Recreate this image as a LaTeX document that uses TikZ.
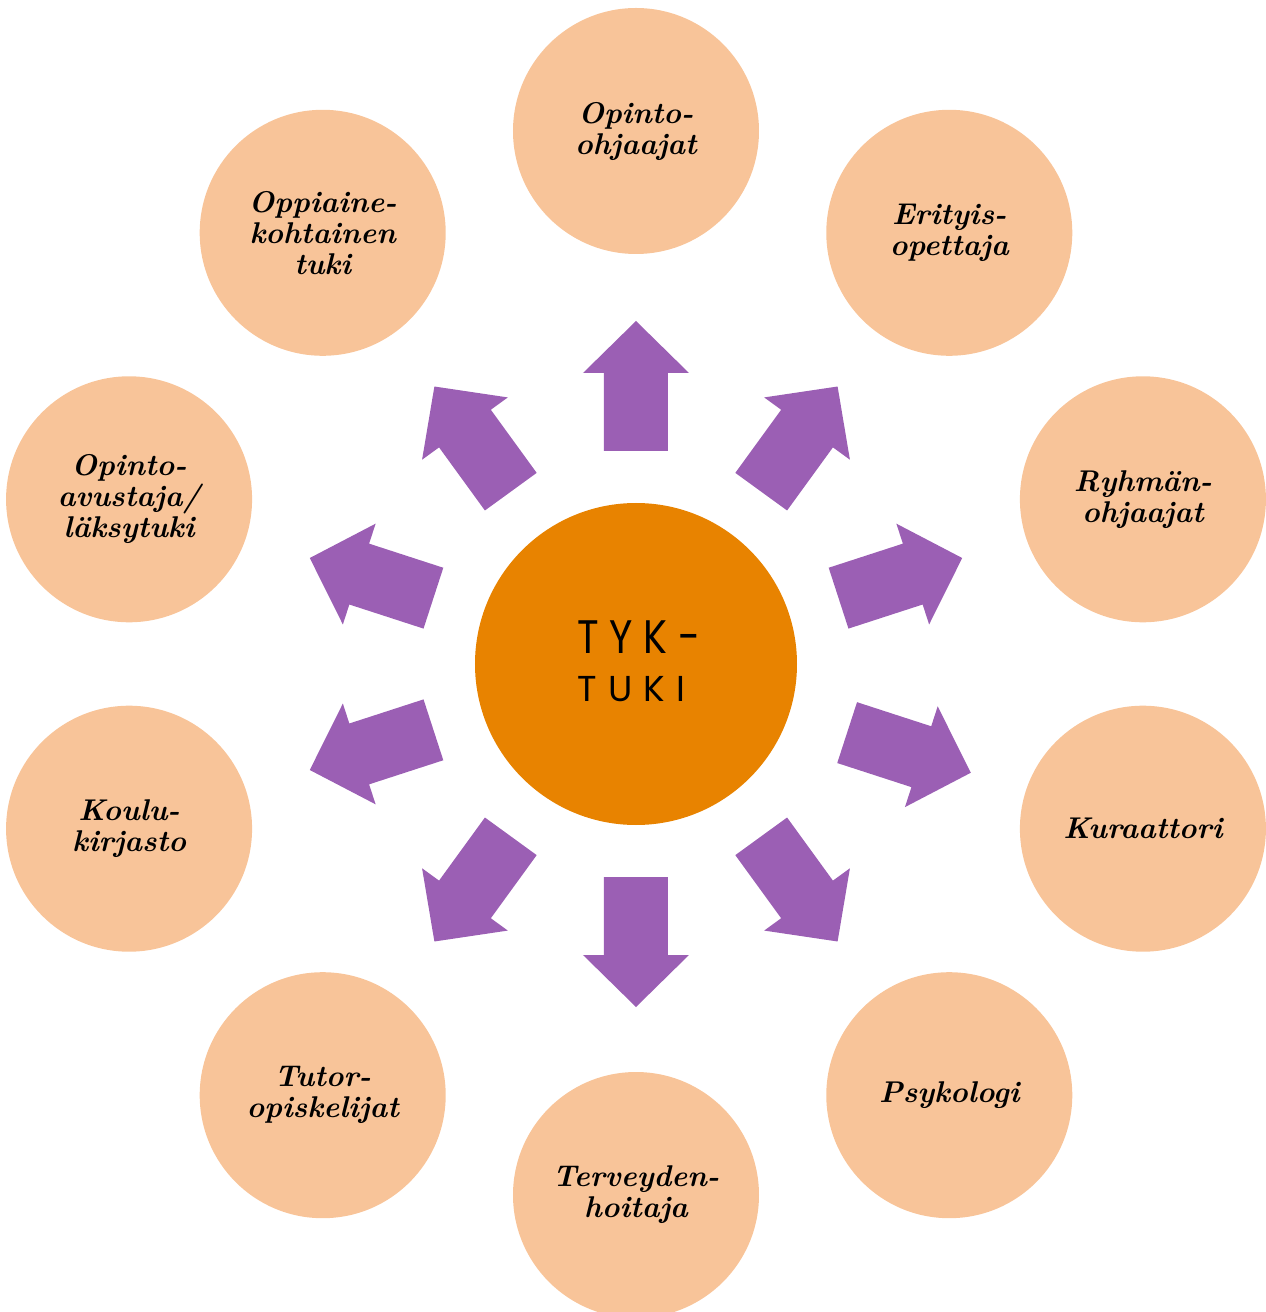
\documentclass[tikz,border=0pt]{standalone}
\usepackage{fontspec}
\newfontfamily\ctrfont{Poppins}
\definecolor{peach}{RGB}{248,196,153}
\definecolor{tykorange}{RGB}{232,131,0}
\definecolor{arrowpurple}{RGB}{155,95,180}
\begin{document}
\begin{tikzpicture}[x=1pt,y=1pt,
  outer/.style={circle, fill=peach, minimum size=246pt, inner sep=0pt, align=center,
    font=\fontsize{30}{31}\selectfont\bfseries\itshape},
  hub/.style={circle, fill=tykorange, minimum size=322pt, inner sep=0pt},
  bigtext/.style={font=\ctrfont\fontsize{47}{50}\selectfont, inner sep=0pt, anchor=base, xscale=0.85},
  smalltext/.style={font=\ctrfont\fontsize{36}{40}\selectfont, inner sep=0pt, anchor=base},
  blockarrow/.style={fill=arrowpurple}]
\useasboundingbox (-636,-648) rectangle (630,664);
% hub
\node[hub] (c) at (0,0) {};
\node[bigtext] (t1) at (3,11) {T\hspace{12.5pt}Y\hspace{12.5pt}K\hspace{12.5pt}-};
\node[smalltext] (t2) at (-4.5,-37) {T\hspace{11pt}U\hspace{11pt}K\hspace{11pt}I};
% outer circles
\node[outer] (n1)  at (90:533)   {Opinto-\\ohjaajat};
\node[outer] (n2)  at (54:533)   {Erityis-\\opettaja};
\node[outer] (n3)  at (18:533)   {Ryhmän-\\ohjaajat};
\node[outer] (n4)  at (-18:533)  {Kuraattori};
\node[outer] (n5)  at (-54:533)  {Psykologi};
\node[outer] (n6)  at (-90:531)  {Terveyden-\\hoitaja};
\node[outer] (n7)  at (-126:533) {Tutor-\\opiskelijat};
\node[outer] (n8)  at (-162:533) {Koulu-\\kirjasto};
\node[outer] (n9)  at (162:533)  {Opinto-\\avustaja/\\läksytuki};
\node[outer] (n10) at (126:533)  {Oppiaine-\\kohtainen\\tuki};
% block arrows
\foreach \a/\s in {90/0,54/0,18/0,-18/9,-54/0,-90/0,-126/0,-162/0,162/0,126/0}{
  \begin{scope}[rotate=\a]
    \fill[blockarrow] (213+\s,-32) -- (291+\s,-32) -- (291+\s,-53) -- (343+\s,0)
      -- (291+\s,53) -- (291+\s,32) -- (213+\s,32) -- cycle;
  \end{scope}
}
\end{tikzpicture}
\end{document}
